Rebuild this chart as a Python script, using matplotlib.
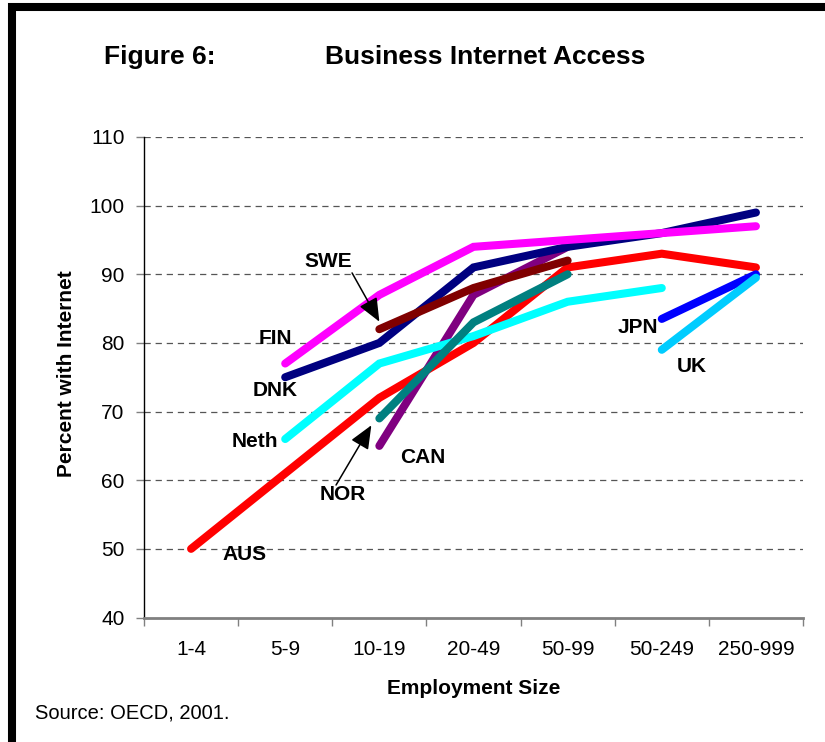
import numpy as np
import matplotlib
matplotlib.use("Agg")
import matplotlib.pyplot as plt
from matplotlib.patches import Rectangle

nan = np.nan
sizes = ["1-4", "5-9", "10-19", "20-49", "50-99", "50-249", "250-999"]
yticks = [40, 50, 60, 70, 80, 90, 100, 110]

aus = [50, 61, 72, 80, 91, 93, 91]
can = [nan, nan, 65, 87, 94, nan, nan]
dnk = [nan, 75, 80, 91, 94, 96, 99]
fin = [nan, 77, 87, 94, 95, 96, 97]
jpn = [nan, nan, nan, nan, nan, 83.5, 90]
neth = [nan, 66, 77, 81, 86, 88, nan]
nor = [nan, nan, 69, 83, 90, nan, nan]
swe = [nan, nan, 82, 88, 92, nan, nan]
uk = [nan, nan, nan, nan, nan, 79, 89.5]

# drawing order: later series sit on top
series = [
    ("AUS", aus, "#FF0000", (0.57, 49.2)),
    ("CAN", can, "#800080", (2.46, 63.3)),
    ("DNK", dnk, "#000080", (0.89, 73.1)),
    ("FIN", fin, "#FF00FF", (0.90, 80.6)),
    ("JPN", jpn, "#0000FF", (4.75, 82.2)),
    ("Neth", neth, "#00FFFF", (0.68, 65.7)),
    ("NOR", nor, "#008080", (1.61, 57.9)),
    ("SWE", swe, "#800000", (1.46, 91.8)),
    ("UK", uk, "#00CCFF", (5.32, 76.6)),
]

plt.rcParams.update({"font.family": "Liberation Sans", "lines.scale_dashes": False})
fig = plt.figure(figsize=(8.25, 7.42), dpi=100)
ax = fig.add_axes([144/825, 1-617.5/742, (803-144)/825, (617.5-137)/742])

x = np.arange(len(sizes))
for name, vals, col, _ in series:
    ax.plot(x, vals, color=col, lw=5.8, solid_capstyle="round", solid_joinstyle="miter", zorder=3)

for name, vals, col, (tx, ty) in series:
    ax.text(tx, ty, name, ha="center", va="center", fontsize=15, fontweight="bold", zorder=5)

arrow = dict(arrowstyle="-|>,head_length=0.4,head_width=0.17", mutation_scale=36,
             color="black", lw=1.1, shrinkA=0, shrinkB=0)
ax.annotate("", xy=(2.0, 83.1), xytext=(1.71, 90.2), arrowprops=arrow, zorder=6)
ax.annotate("", xy=(1.915, 68.0), xytext=(1.54, 59.3), arrowprops=arrow, zorder=6)

ax.set_xlim(-0.5, 6.5)
ax.set_ylim(40, 110)
ax.set_yticks(yticks)
ax.set_yticklabels([str(v) for v in yticks], fontsize=15)
ax.set_xticks(np.arange(-0.5, 7, 1))
ax.set_xticklabels([])
ax.set_xticks(x, minor=True)
ax.set_xticklabels(sizes, minor=True, fontsize=15)
ax.tick_params(axis="x", which="major", direction="out", length=6, width=1, color="#808080")
ax.tick_params(axis="x", which="minor", length=0, pad=16)
ax.tick_params(axis="y", direction="out", length=6, width=1, color="#808080", pad=8)

for v in yticks[1:]:
    ax.axhline(v, color="#555555", lw=0.9, dashes=(4.5, 3.5), zorder=1)

for s in ["top", "right"]:
    ax.spines[s].set_visible(False)
ax.spines["left"].set_color("black")
ax.spines["left"].set_linewidth(1)
ax.spines["bottom"].set_color("#808080")
ax.spines["bottom"].set_linewidth(2)

fig.text(67/825, 1-374/742, "Percent with Internet", rotation=90, ha="center", va="center",
         fontsize=15, fontweight="bold")
fig.text(474/825, 1-688/742, "Employment Size", ha="center", va="center",
         fontsize=15, fontweight="bold")
fig.text(104/825, 1-57/742, "Figure 6:", ha="left", va="center", fontsize=19, fontweight="bold")
fig.text(325/825, 1-57/742, "Business Internet Access", ha="left", va="center",
         fontsize=19, fontweight="bold")
fig.text(35/825, 1-713/742, "Source: OECD, 2001.", ha="left", va="center", fontsize=14.5)

fig.patches.append(Rectangle((12/825, 1-744/742), (840-12)/825, (744-7)/742,
                             transform=fig.transFigure, fill=False, edgecolor="black",
                             lw=5.8, clip_on=False))

fig.savefig("out.png", dpi=100)
